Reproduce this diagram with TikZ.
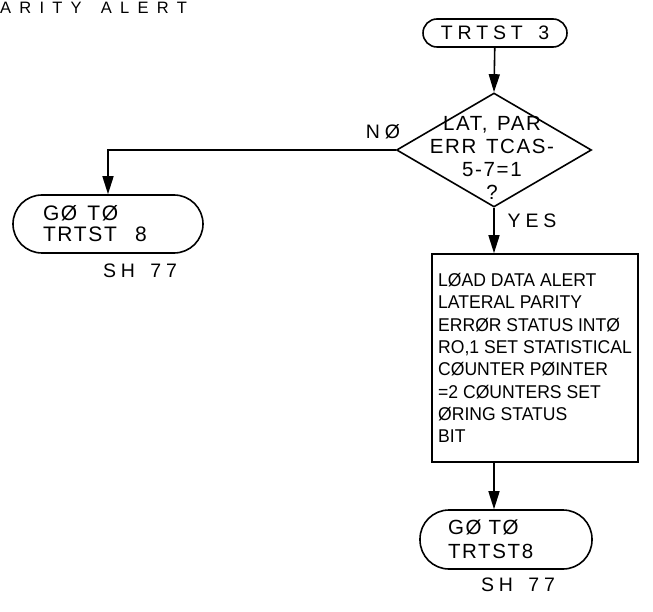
\documentclass[tikz,border=0pt]{standalone}
\usepackage{fontspec}
\setmainfont[FakeStretch=0.95]{Liberation Sans}
\newfontfamily\ttlfont[LetterSpace=50, WordSpace=1.5]{Liberation Sans}
\newfontfamily\lblfont[LetterSpace=25, WordSpace=1.5]{Liberation Sans}
\newfontfamily\dfont[LetterSpace=8, WordSpace=1.3]{Liberation Sans}
\usepackage{tikz}
\usetikzlibrary{arrows.meta,shapes.geometric}

\begin{document}
\begin{tikzpicture}[x=1pt, y=-1pt, line width=1.6pt, >={Triangle[length=18pt,width=11pt]},
	every node/.style={font=\lblfont\fontsize{19.5}{21}\selectfont},
	term/.style={draw, inner sep=0pt, align=left},
	flowbox/.style={draw, inner sep=0pt, align=left, font=\fontsize{18.5}{22.3}\selectfont}]
	\useasboundingbox (0,0) rectangle (653,612);
	\node[anchor=west, font=\ttlfont\fontsize{16.5}{18}\selectfont] (title) at (-4,8) {ARITY ALERT};
	\node[term, rounded corners=14pt, minimum width=144pt, minimum height=28pt, align=center] (start) at (495,33) {TRTST 3};
	\node[diamond, draw, inner sep=0pt, minimum width=195pt, minimum height=114pt] (dec) at (494,150) {};
	\node[align=center, font=\dfont\fontsize{20.5}{23}\selectfont] (dectext) at (492,157.5) {LAT, PAR\\ERR TCAS-\\5-7=1\\?};
	\node[term, rounded corners=29pt, minimum width=190pt, minimum height=58pt, text width=130pt, font=\dfont\fontsize{21}{21}\selectfont] (goto1) at (108,224) {GØ\hspace{10pt}TØ\\TRTST\hspace{18pt}8};
	\node[flowbox, minimum width=206pt, minimum height=208pt] (load) at (535,358) {LØAD DATA ALERT\\LATERAL PARITY\\ERRØR STATUS INTØ\\RO,1 SET STATISTICAL\\CØUNTER PØINTER\\=2 CØUNTERS SET\\ØRING STATUS\\BIT};
	\node[term, rounded corners=29pt, minimum width=172pt, minimum height=59pt, text width=116pt, font=\dfont\fontsize{20.5}{24}\selectfont] (goto2) at (506,539.5) {GØ\hspace{7pt}TØ\\TRTST8};
	\node (no) at (383,132) {NØ};
	\node (yes) at (532,221) {YES};
	\node (sh1) at (140,271) {SH 77};
	\node (sh2) at (518,585) {SH 77};
	\draw[->] (start) -- (dec.north);
	\draw[->] (dec.west) -| (goto1.north);
	\draw[->] (dec.south) -- (dec.south |- load.north);
	\draw[->] (load.south -| dec.south) -- (dec.south |- goto2.north);
\end{tikzpicture}
\end{document}
